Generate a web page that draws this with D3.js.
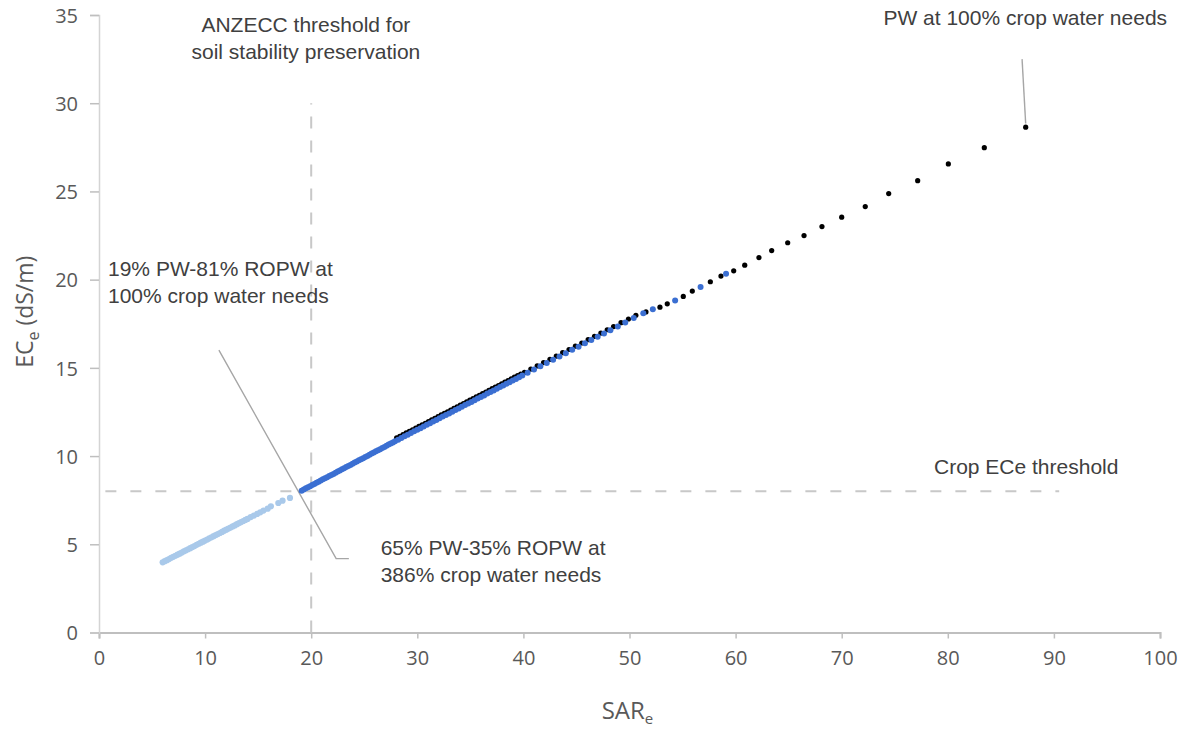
<!DOCTYPE html>
<html>
<head>
<meta charset="utf-8">
<script src="https://cdn.jsdelivr.net/npm/d3@7"></script>
<style>
  body { margin: 0; background: #fff; }
</style>
</head>
<body>
<div id="chart"></div>
<script>
// 65% PW - 35% ROPW blend (light blue, below crop threshold)
const lightSar = [6.0,6.2,6.4,6.6,6.8,7.0,7.2,7.4,7.6,7.8,8.0,8.2,8.4,8.6,8.8,9.0,9.2,9.4,9.6,9.8,
  10.0,10.2,10.4,10.6,10.8,11.0,11.2,11.4,11.6,11.8,12.0,12.2,12.4,12.6,12.8,13.0,13.2,13.4,13.6,13.8,
  14.0,14.3,14.6,14.9,15.2,15.5,15.9,16.2,16.9,17.3,18.0]
const lightEce = [3.98,4.04,4.10,4.16,4.23,4.29,4.35,4.41,4.47,4.53,4.60,4.66,4.72,4.78,4.84,4.90,4.97,5.03,5.09,5.15,
  5.21,5.27,5.34,5.40,5.46,5.52,5.58,5.64,5.70,5.77,5.83,5.89,5.95,6.01,6.07,6.14,6.20,6.26,6.32,6.38,
  6.44,6.54,6.63,6.72,6.81,6.91,7.02,7.15,7.34,7.47,7.63]

// blends above the thresholds (blue)
const blueSar = [19.1,19.3,19.5,19.7,19.9,20.1,20.3,20.5,20.7,20.9,21.1,21.3,21.5,21.7,21.9,22.1,22.3,22.5,22.7,22.9,
  23.1,23.3,23.5,23.7,23.9,24.1,24.3,24.5,24.7,24.9,25.1,25.3,25.5,25.7,25.9,26.1,26.3,26.5,26.7,26.9,
  27.1,27.3,27.5,27.7,27.9,
  28.2,28.5,28.8,29.1,29.4,29.7,30.0,30.3,30.6,30.9,31.2,31.5,31.8,32.1,32.4,32.7,33.0,33.3,33.6,33.9,
  34.2,34.5,34.8,35.1,35.4,35.7,36.0,36.3,36.6,36.9,37.2,37.5,37.8,38.1,38.4,38.7,39.0,39.3,39.6,39.9,
  40.4,41.0,41.6,42.2,42.8,43.4,44.0,44.6,45.2,45.8,46.4,47.0,47.6,48.2,48.9,49.6,50.4,51.3,
  52.2,54.3,56.7,59.1]
const blueEce = [8.04,8.10,8.17,8.23,8.29,8.36,8.42,8.49,8.55,8.61,8.68,8.74,8.80,8.87,8.93,8.99,9.06,9.12,9.18,9.25,
  9.31,9.38,9.44,9.50,9.57,9.63,9.69,9.76,9.82,9.88,9.95,10.01,10.08,10.14,10.20,10.27,10.33,10.39,10.46,10.52,
  10.58,10.65,10.71,10.77,10.84,
  10.93,11.03,11.12,11.21,11.31,11.40,11.49,11.58,11.68,11.77,11.86,11.96,12.05,12.14,12.24,12.33,12.42,12.51,12.61,12.70,
  12.79,12.89,12.98,13.07,13.17,13.26,13.35,13.44,13.54,13.63,13.72,13.82,13.91,14.00,14.10,14.19,14.28,14.37,14.47,14.56,
  14.72,14.90,15.09,15.27,15.46,15.65,15.83,16.02,16.20,16.39,16.58,16.76,16.95,17.13,17.35,17.57,17.82,18.09,
  18.32,18.82,19.58,20.33]

// PW proportion series (black)
const blackSar = [28.05,28.35,28.65,28.95,29.25,29.55,29.85,30.15,30.45,30.75,31.05,31.35,31.65,31.95,32.25,32.55,32.85,33.15,33.45,33.75,
  34.05,34.35,34.65,34.95,35.25,35.55,35.85,36.15,36.45,36.75,37.05,37.35,37.65,37.95,38.25,38.55,38.85,39.15,39.45,39.75,
  40.1,40.7,41.3,41.9,42.5,43.1,43.7,44.3,44.9,45.5,46.1,46.7,47.3,47.9,48.5,49.2,49.9,50.6,51.55,
  52.87,53.56,55.07,55.92,57.62,58.62,59.82,60.86,62.20,63.40,64.91,66.45,68.14,70.00,72.22,74.43,77.16,80.05,83.44,87.34]
const blackEce = [11.03,11.12,11.21,11.31,11.40,11.49,11.58,11.68,11.77,11.86,11.96,12.05,12.14,12.24,12.33,12.42,12.51,12.61,12.70,12.79,
  12.89,12.98,13.07,13.17,13.26,13.35,13.44,13.54,13.63,13.72,13.82,13.91,14.00,14.10,14.19,14.28,14.37,14.47,14.56,14.65,
  14.74,14.93,15.11,15.30,15.48,15.67,15.86,16.04,16.23,16.41,16.60,16.79,16.97,17.16,17.34,17.56,17.77,17.98,18.17,
  18.44,18.63,19.05,19.35,19.88,20.20,20.50,20.82,21.25,21.65,22.09,22.50,23.01,23.54,24.14,24.88,25.61,26.56,27.48,28.64]

const xTicks = [0,10,20,30,40,50,60,70,80,90,100]
const yTicks = [0,5,10,15,20,25,30,35]

const sarThreshold = 20   // ANZECC
const eceThreshold = 8    // crop ECe

const width = 1188, height = 731

const x = d3.scaleLinear().domain([0, 100]).range([99, 1160])
const y = d3.scaleLinear().domain([0, 35]).range([632.5, 15])

const svg = d3.select("#chart")
    .append("svg")
    .attr("width", width)
    .attr("height", height)
    .style("font-family", "'Liberation Sans', Arial, sans-serif")

// axes
const xAxis = svg.append("g")
    .attr("transform", `translate(0,${y(0)})`)
    .call(d3.axisBottom(x).tickValues(xTicks).tickSize(6).tickPadding(12))
const yAxis = svg.append("g")
    .attr("transform", `translate(${x(0)},0)`)
    .call(d3.axisLeft(y).tickValues(yTicks).tickSize(9).tickPadding(12))

xAxis.select(".domain").attr("stroke", "#bfbfbf").attr("stroke-width", 2)
yAxis.select(".domain").attr("stroke", "#d4d4d4").attr("stroke-width", 1.5)
svg.selectAll(".tick line").attr("stroke", "#bfbfbf").attr("stroke-width", 1.5)
svg.selectAll(".tick text")
    .attr("fill", "#595959")
    .style("font-family", "'Open Sans', sans-serif")
    .style("font-size", "20px")
yAxis.selectAll(".tick text").attr("dy", "0.36em")

// threshold lines
svg.append("line")
    .attr("x1", x(sarThreshold)).attr("x2", x(sarThreshold))
    .attr("y1", y(0)).attr("y2", y(30))
    .attr("stroke", "#c8c8c8").attr("stroke-width", 2)
    .attr("stroke-dasharray", "12,12")
svg.append("line")
    .attr("x1", x(0.6)).attr("x2", x(90.5))
    .attr("y1", y(eceThreshold)).attr("y2", y(eceThreshold))
    .attr("stroke", "#c8c8c8").attr("stroke-width", 2)
    .attr("stroke-dasharray", "11,14")

// callout lines
const callout = d3.line().x(d => x(d[0])).y(d => y(d[1]))
svg.append("path")
    .attr("d", callout([[11.3, 16.0], [22.35, 4.19], [23.55, 4.19]]))
    .attr("fill", "none").attr("stroke", "#a6a6a6").attr("stroke-width", 1.4)
svg.append("path")
    .attr("d", callout([[87.0, 32.5], [87.34, 28.85]]))
    .attr("fill", "none").attr("stroke", "#a6a6a6").attr("stroke-width", 1.4)

// points
const drawSeries = (sar, ece, color, r) => {
    svg.append("g")
        .selectAll("circle")
        .data(d3.zip(sar, ece))
        .enter()
        .append("circle")
        .attr("cx", d => x(d[0]))
        .attr("cy", d => y(d[1]))
        .attr("r", r)
        .attr("fill", color)
}
drawSeries(blackSar, blackEce, "#000000", 2.6)
drawSeries(lightSar, lightEce, "#a9c9ea", 3.1)
drawSeries(blueSar, blueEce, "#3b6fd2", 3.0)

// annotations
const note = (lines, sx, sy, anchor) => {
    const t = svg.append("text")
        .attr("x", x(sx))
        .attr("y", y(sy))
        .attr("text-anchor", anchor)
        .attr("fill", "#404040")
        .style("font-size", "21px")
    lines.forEach((s, i) => {
        t.append("tspan").attr("x", x(sx)).attr("dy", i === 0 ? 0 : 27).text(s)
    })
}
note(["ANZECC threshold for", "soil stability preservation"], 19.5, 34.04, "middle")
note(["PW at 100% crop water needs"], 87.3, 34.44, "middle")
note(["19% PW-81% ROPW at", "100% crop water needs"], 0.85, 20.21, "start")
note(["65% PW-35% ROPW at", "386% crop water needs"], 26.55, 4.39, "start")
note(["Crop ECe threshold"], 78.7, 8.99, "start")

// axis titles
const xTitle = svg.append("text")
    .attr("x", (x(0) + x(100)) / 2 - 2)
    .attr("y", 719)
    .attr("text-anchor", "middle")
    .attr("fill", "#595959")
    .style("font-family", "'Open Sans', sans-serif")
    .style("font-size", "24px")
xTitle.append("tspan").text("SAR")
xTitle.append("tspan").attr("dy", 5).style("font-size", "15px").text("e")

const yTitle = svg.append("text")
    .attr("transform", `translate(33,${(y(15) + y(20)) / 2 - 12}) rotate(-90)`)
    .attr("text-anchor", "middle")
    .attr("fill", "#595959")
    .style("font-family", "'Open Sans', sans-serif")
    .style("font-size", "23px")
yTitle.append("tspan").text("EC")
yTitle.append("tspan").attr("dy", 6).style("font-size", "16px").text("e")
yTitle.append("tspan").attr("dy", -6).text(" (dS/m)")
</script>
</body>
</html>
